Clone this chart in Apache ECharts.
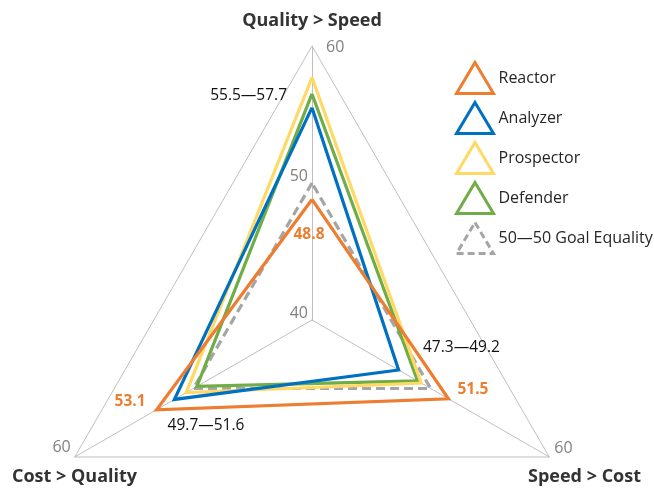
<!DOCTYPE html>
<html>
<head>
<meta charset="utf-8">
<script src="https://cdn.jsdelivr.net/npm/echarts@6/dist/echarts.min.js"></script>
<style>
  html, body { margin: 0; padding: 0; background: #ffffff; }
  #chart { width: 654px; height: 491px; }
</style>
</head>
<body>
<div id="chart"></div>
<script>
// Axes of the radar, in drawing order (top, bottom-left, bottom-right)
const axes = ['Quality > Speed', 'Cost > Quality', 'Speed > Cost'];
const seriesNames = ['Reactor', 'Analyzer', 'Prospector', 'Defender', '50\u201450 Goal Equality'];

// Scores per axis, same order as `axes`
const reactor    = [48.8, 53.1, 51.5];
const analyzer   = [55.5, 51.6, 47.3];
const prospector = [57.7, 50.6, 49.2];
const defender   = [56.5, 49.7, 48.9];
const goal       = [50, 50, 50];

const tickValues = [40, 50, 60];
const axisMin = 40, axisMax = 60;

const colors = ['#ED7D31', '#0070C0', '#FFD966', '#70AD47', '#A5A5A5'];
const allValues = [reactor, analyzer, prospector, defender, goal];

const FONT = '"Open Sans", "Noto Sans", sans-serif';
const CX = 312, CY = 320, R = 274;

// Pixel position of a value on a radar axis (same geometry as the radar component)
function pointAt(axisIdx, v) {
  const a = (90 + axisIdx * 120) * Math.PI / 180;
  const r = (v - axisMin) / (axisMax - axisMin) * R;
  return [CX + r * Math.cos(a), CY - r * Math.sin(a)];
}

// Min–max range of the four strategy types other than Reactor
function rangeText(axisIdx) {
  const vals = [analyzer, prospector, defender].map(s => s[axisIdx]);
  return Math.min(...vals).toFixed(1) + '\u2014' + Math.max(...vals).toFixed(1);
}

function text(x, y, str, opts) {
  return {
    type: 'text', x: x, y: y, silent: true, z: 100,
    style: Object.assign({
      text: str, fontFamily: FONT, fontSize: 15.5, fill: '#111111',
      align: 'center', verticalAlign: 'middle'
    }, opts || {})
  };
}

const graphics = [];

// Axis titles
graphics.push(text(CX, 21, axes[0], { fontSize: 18, fontWeight: 'bold', fill: '#333333' }));
graphics.push(text(12, 477, axes[1], { fontSize: 18, fontWeight: 'bold', fill: '#333333', align: 'left' }));
graphics.push(text(641, 477, axes[2], { fontSize: 18, fontWeight: 'bold', fill: '#333333', align: 'right' }));

// Tick labels on the top axis, plus the outer value at each vertex
const tickStyle = { fontSize: 16, fill: '#808080' };
let p = pointAt(0, tickValues[0]);
graphics.push(text(p[0] - 4, p[1] - 7, String(tickValues[0]), Object.assign({ align: 'right' }, tickStyle)));
p = pointAt(0, tickValues[1]);
graphics.push(text(p[0] - 4, p[1] - 7, String(tickValues[1]), Object.assign({ align: 'right' }, tickStyle)));
p = pointAt(0, tickValues[2]);
graphics.push(text(p[0] + 14, p[1] + 1, String(tickValues[2]), Object.assign({ align: 'left' }, tickStyle)));
p = pointAt(1, tickValues[2]);
graphics.push(text(p[0] - 4, p[1] - 10, String(tickValues[2]), Object.assign({ align: 'right' }, tickStyle)));
p = pointAt(2, tickValues[2]);
graphics.push(text(p[0] + 5, p[1] - 9, String(tickValues[2]), Object.assign({ align: 'left' }, tickStyle)));

// Reactor values
const reactorStyle = { fontSize: 15.5, fontWeight: 'bold', fill: colors[0] };
p = pointAt(0, reactor[0]);
graphics.push(text(p[0] - 3, p[1] + 35, reactor[0].toFixed(1), reactorStyle));
p = pointAt(1, reactor[1]);
graphics.push(text(p[0] - 11, p[1] - 8, reactor[1].toFixed(1), Object.assign({ align: 'right' }, reactorStyle)));
p = pointAt(2, reactor[2]);
graphics.push(text(p[0] + 9, p[1] - 9, reactor[2].toFixed(1), Object.assign({ align: 'left' }, reactorStyle)));

// Ranges of the other strategy types
graphics.push(text(287, 96, rangeText(0), { align: 'right' }));
graphics.push(text(206, 426, rangeText(1)));
graphics.push(text(423, 348, rangeText(2), { align: 'left' }));

const chart = echarts.init(document.getElementById('chart'), null, { renderer: 'canvas' });

chart.setOption({
  animation: false,
  backgroundColor: '#ffffff',
  legend: {
    orient: 'vertical',
    left: 450,
    top: 56,
    icon: 'triangle',
    itemWidth: 37,
    itemHeight: 31,
    itemGap: 6,
    textStyle: { fontFamily: FONT, fontSize: 16, color: '#262626' },
    data: seriesNames.map((n, i) => ({
      name: n,
      itemStyle: {
        color: 'transparent',
        borderColor: colors[i],
        borderWidth: 3,
        borderType: i === 4 ? [7, 4] : 'solid'
      }
    }))
  },
  radar: {
    center: [CX, CY],
    radius: R,
    startAngle: 90,
    shape: 'polygon',
    splitNumber: 1,
    indicator: axes.map(n => ({ name: n, min: axisMin, max: axisMax })),
    axisName: { show: false },
    axisLabel: { show: false },
    axisTick: { show: false },
    axisLine: { lineStyle: { color: '#BFBFBF', width: 1 } },
    splitLine: { lineStyle: { color: '#BFBFBF', width: 1 } },
    splitArea: { show: false }
  },
  series: seriesNames.map((n, i) => ({
    name: n,
    type: 'radar',
    symbol: 'none',
    z: 2 + (4 - i),
    itemStyle: { color: colors[i] },
    lineStyle: {
      color: colors[i],
      width: 3.2,
      type: i === 4 ? [9, 5] : 'solid',
      join: 'miter'
    },
    data: [{ name: n, value: allValues[i] }]
  })),
  graphic: graphics
});
</script>
</body>
</html>
